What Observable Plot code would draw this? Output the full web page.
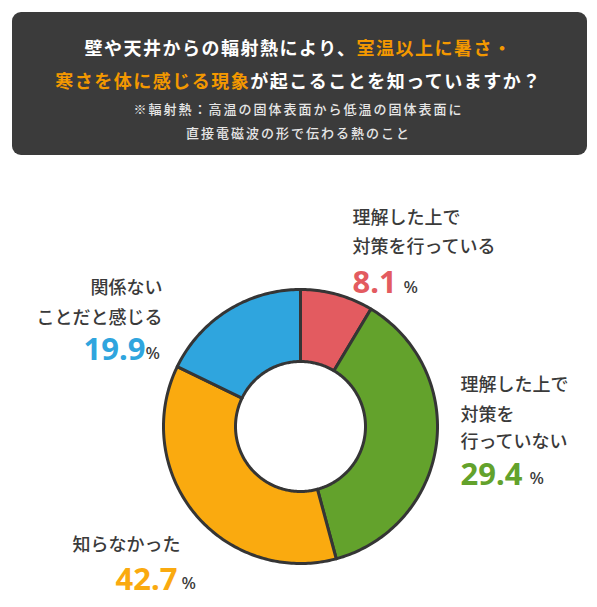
<!DOCTYPE html>
<html><head><meta charset="utf-8">
<script src="https://cdn.jsdelivr.net/npm/d3@7"></script>
<script src="https://cdn.jsdelivr.net/npm/@observablehq/plot@0.6"></script>
<style>
html,body{margin:0;padding:0;background:#fff;}
body{width:597px;height:607px;overflow:hidden;position:relative;font-family:"Noto Sans CJK JP","Noto Sans",sans-serif;}
#header{position:absolute;left:12px;top:12px;width:575px;height:143px;background:#3b3b3b;border-radius:9px;}
.hl{position:absolute;left:0;width:597px;text-align:center;white-space:nowrap;color:#fff;}
.big{font-size:18px;font-weight:700;letter-spacing:1.5px;height:26px;line-height:26px;}
.small{font-size:13px;font-weight:500;letter-spacing:2px;height:20px;line-height:20px;color:#e6e6e6;}
.hi{color:#f39800;}
#chart{position:absolute;left:0;top:170px;}
</style></head>
<body>
<div id="header"></div>
<div id="titles"></div>
<div id="chart"></div>
<script>
// ---- data ----
const categories = ["理解した上で対策を行っている", "理解した上で対策を行っていない", "知らなかった", "関係ないことだと感じる"];
// percentages printed on the chart
const labelValues = [8.1, 29.4, 42.7, 19.9];
// slice shares as drawn in the picture (measured from the slice boundaries)
const sliceShares = [8.6, 37.2, 36.4, 17.8];
const colors = ["#e35b60", "#63a22c", "#faaa0f", "#2fa5de"];
const labelLines = [
  ["理解した上で", "対策を行っている"],
  ["理解した上で", "対策を", "行っていない"],
  ["知らなかった"],
  ["関係ない", "ことだと感じる"]
];
const titleLine1 = [["壁や天井からの輻射熱により、", false], ["室温以上に暑さ・", true]];
const titleLine2 = [["寒さを体に感じる現象", true], ["が起こることを知っていますか？", false]];
const noteLines = ["※輻射熱：高温の固体表面から低温の固体表面に", "直接電磁波の形で伝わる熱のこと"];

// ---- header ----
const titles = document.getElementById("titles");
function addLine(parts, cls, centerY, h) {
  const d = document.createElement("div");
  d.className = "hl " + cls;
  d.style.top = (centerY - h / 2) + "px";
  parts.forEach(([t, hi]) => {
    const s = document.createElement("span");
    if (hi) s.className = "hi";
    s.textContent = t;
    d.appendChild(s);
  });
  titles.appendChild(d);
}
addLine(titleLine1, "big", 47, 26);
addLine(titleLine2, "big", 80, 26);
addLine([[noteLines[0], false]], "small", 109, 20);
addLine([[noteLines[1], false]], "small", 133, 20);

// ---- layout (pixels within the SVG) ----
const W = 597, H = 437;
const CX = 300, CY = 256, R = 137, R0 = 65;
const layout = [
  {anchor: "start", x: 352, ys: [48, 77], nx: 352, ny: 113, px: 403, py: 117},
  {anchor: "start", x: 460, ys: [215, 245, 272], nx: 460, ny: 305, px: 529, py: 308},
  {anchor: "start", x: 72, ys: [375], nx: 115, ny: 410, px: 181, py: 413},
  {anchor: "end", x: 162, ys: [118, 148], nx: 83, ny: 180, px: 145, py: 183}
];

// ---- slice geometry from shares ----
const total = d3.sum(sliceShares);
let acc = 0;
const pts = [];
sliceShares.forEach((v, i) => {
  const a0 = acc / total * 2 * Math.PI;
  acc += v;
  const a1 = acc / total * 2 * Math.PI;
  const n = Math.max(6, Math.ceil((a1 - a0) / (Math.PI / 180)));
  for (let k = 0; k <= n; k++) {
    const a = a0 + (a1 - a0) * k / n;
    pts.push({cat: categories[i], x: Math.sin(a), y: Math.cos(a)});
  }
  for (let k = n; k >= 0; k--) {
    const a = a0 + (a1 - a0) * k / n;
    pts.push({cat: categories[i], x: (R0 / R) * Math.sin(a), y: (R0 / R) * Math.cos(a)});
  }
});

const marks = [
  Plot.line(pts, {x: "x", y: "y", z: "cat", fill: "cat", stroke: "#353535", strokeWidth: 3, strokeLinejoin: "round", curve: "linear-closed"})
];
const FONT = "Noto Sans CJK JP";
categories.forEach((c, i) => {
  const L = layout[i];
  labelLines[i].forEach((t, j) => {
    marks.push(Plot.text([t], {frameAnchor: "top-left", dx: L.x, dy: L.ys[j], text: d => d, textAnchor: L.anchor, lineAnchor: "middle",
      fontSize: 18, fontWeight: 500, fill: "#3a3a3a", fontFamily: FONT, style: "letter-spacing:1px"}));
  });
  marks.push(Plot.text([labelValues[i]], {frameAnchor: "top-left", dx: L.nx, dy: L.ny, text: d => d.toFixed(1), textAnchor: "start", lineAnchor: "middle",
    fontSize: 31, fontWeight: 700, fill: colors[i], fontFamily: "Noto Sans", style: "letter-spacing:2.5px"}));
  marks.push(Plot.text(["%"], {frameAnchor: "top-left", dx: L.px, dy: L.py, text: d => d, textAnchor: "start", lineAnchor: "middle",
    fontSize: 17, fontWeight: 500, fill: "#3a3a3a", fontFamily: "Noto Sans"}));
});

const chart = Plot.plot({
  width: W, height: H,
  margin: 0,
  x: {domain: [-1, 1], range: [CX - R, CX + R], axis: null},
  y: {domain: [-1, 1], range: [CY + R, CY - R], axis: null},
  color: {domain: categories, range: colors},
  style: {background: "transparent", overflow: "visible"},
  marks
});
document.getElementById("chart").appendChild(chart);
</script>
</body></html>
